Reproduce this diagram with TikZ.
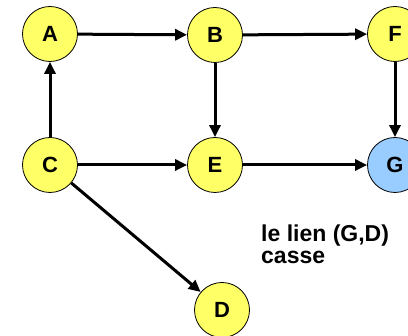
\documentclass[tikz,border=0pt]{standalone}
\usepackage{fontspec}
\setmainfont{Liberation Sans}
\usepackage{tikz}
\usetikzlibrary{arrows.meta}
\definecolor{sommet}{RGB}{255,255,102}
\definecolor{cible}{RGB}{153,204,255}
\begin{document}
\begin{tikzpicture}[x=1pt,y=1pt,
        sommet/.style={circle,draw=black,line width=0.8pt,fill=sommet,minimum size=55pt,inner sep=0pt,font=\fontsize{22}{22}\selectfont\bfseries},
        lien/.style={line width=3pt,-{Triangle[length=12pt,width=11pt]}}]
        \useasboundingbox (0,0) rectangle (408,336);
        \node[sommet] (A) at (50,302) {A};
        \node[sommet] (B) at (215,301) {B};
        \node[sommet] (F) at (395,302) {F};
        \node[sommet] (C) at (50,171) {C};
        \node[sommet] (E) at (215,171) {E};
        \node[sommet,fill=cible] (G) at (395,171) {G};
        \node[sommet] (D) at (222,26) {D};
        \draw[lien] (A) -- (B);
        \draw[lien] (B) -- (F);
        \draw[lien] (C) -- (A);
        \draw[lien] (B) -- (E);
        \draw[lien] (F) -- (G);
        \draw[lien] (C) -- (E);
        \draw[lien] (E) -- (G);
        \draw[lien] (C) -- (D);
        \node[anchor=base west,align=left,inner sep=0pt,font=\fontsize{23}{22}\selectfont\bfseries] (txt) at (261,72) {le lien (G,D)\\casse};
    \end{tikzpicture}
\end{document}
